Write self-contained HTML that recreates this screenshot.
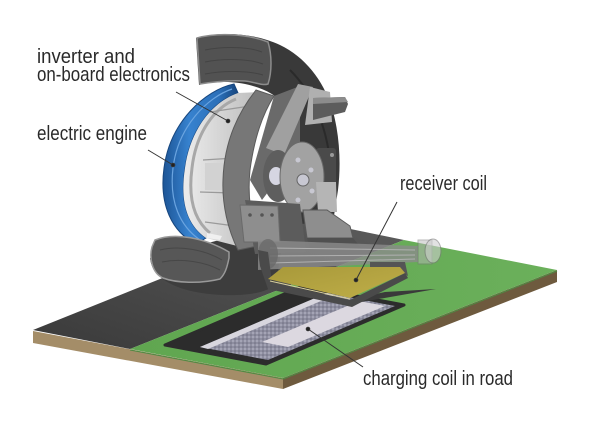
<!DOCTYPE html>
<html><head><meta charset="utf-8">
<style>
html,body{margin:0;padding:0;background:#fff;}
svg{display:block;}
text{font-family:"Liberation Sans",sans-serif;fill:#2a2a2a;font-size:20px;}
</style></head><body>
<svg width="600" height="425" viewBox="0 0 600 425" xmlns="http://www.w3.org/2000/svg">
<defs>
<linearGradient id="asph" x1="0" y1="1" x2="1" y2="0">
<stop offset="0" stop-color="#3a3a3a"/><stop offset="1" stop-color="#5c5c5c"/>
</linearGradient>
<linearGradient id="grn" x1="0" y1="0" x2="1" y2="0">
<stop offset="0" stop-color="#60a650"/><stop offset="1" stop-color="#6bb05b"/>
</linearGradient>
<linearGradient id="blue" x1="0" y1="0" x2="1" y2="0">
<stop offset="0" stop-color="#1d5596"/><stop offset="0.35" stop-color="#3782cf"/><stop offset="0.75" stop-color="#2b6fb8"/><stop offset="1" stop-color="#17467e"/>
</linearGradient>
<linearGradient id="housing" x1="0" y1="0" x2="1" y2="0">
<stop offset="0" stop-color="#ececec"/><stop offset="1" stop-color="#bcbcbc"/>
</linearGradient>
<linearGradient id="yel" x1="0" y1="0" x2="1" y2="1">
<stop offset="0" stop-color="#a8993a"/><stop offset="1" stop-color="#bfae48"/>
</linearGradient>
<pattern id="dots" width="4" height="4" patternUnits="userSpaceOnUse">
<rect width="4" height="4" fill="#8e8ea0"/>
<circle cx="1" cy="1" r="0.9" fill="#b4b4c4"/>
<circle cx="3" cy="3" r="0.8" fill="#6e6e80"/>
</pattern>
</defs>

<!-- slab faces -->
<polygon points="33,331 283,378 283,389 33,343" fill="#a48d68"/>
<polygon points="283,378 557,270 557,282 283,389" fill="#6e5a3e"/>
<!-- slab top -->
<polygon points="33,330 307,220 404,240 130,349" fill="url(#asph)"/>
<polygon points="130,349 404,240 557,270 283,378" fill="url(#grn)"/>
<line x1="130" y1="350" x2="283" y2="379" stroke="#4f8a42" stroke-width="1"/>
<line x1="283" y1="379" x2="557" y2="271" stroke="#4f8a42" stroke-width="1"/>

<!-- slot -->
<polygon points="165,345 266,364 404,305 303,286" fill="#2c2c2c" stroke="#2c2c2c" stroke-width="3" stroke-linejoin="round"/>
<polygon points="200,347 268,360 395,306 327,293" fill="url(#dots)"/>
<polygon points="200,347 208,349 335,295 327,293" fill="#d8d6de"/>
<polygon points="262,342 288,347 385,306 359,301" fill="#dcd8e0"/>

<!-- wedge shadow -->
<polygon points="345,301 385,292 436,289 350,304" fill="#3a3a3a"/>

<!-- lower tire body -->
<path d="M150,258 C152,280 180,293 222,295 C250,296 268,292 276,284 L282,245 L235,236 Z" fill="#3d3d3d"/>

<!-- tire upper/right -->
<path d="M196,38 C220,31 255,33 280,45 C305,57 323,80 332,108 C340,135 341,165 338,190 L333,222 L300,224 L285,105 C272,90 250,83 228,82 C215,82 205,83 199,85 Z" fill="#393939"/>
<path d="M290,70 C310,90 325,120 330,160" stroke="#2a2a2a" stroke-width="2" fill="none"/>
<path d="M197,38 C215,33 245,33 268,42 C272,55 272,72 268,84 C262,86 255,82 245,81 C230,80 212,82 200,84 Z" fill="#525252" stroke="#8c8c8c" stroke-width="1.5"/>
<path d="M205,50 C225,46 250,47 262,52 M205,62 C225,58 250,59 263,64 M205,74 C225,70 250,71 263,75" stroke="#444" stroke-width="1" fill="none"/>

<!-- blue ring -->
<path d="M234,84 C205,90 170,122 164,168 C159,205 172,232 196,244 L206,238 C186,224 180,200 185,168 C190,130 212,102 238,93 Z" fill="url(#blue)" stroke="#17467e" stroke-width="1"/>
<path d="M232,89 C208,97 178,126 173,168 C169,202 180,226 200,240" stroke="#6aa4e0" stroke-width="1.2" fill="none"/>

<!-- motor housing -->
<path d="M238,93 C212,102 190,130 185,168 C180,200 186,224 206,238 L245,248 L240,150 L260,92 Z" fill="url(#housing)"/>
<path d="M236,99 C214,108 196,133 192,168 C188,198 194,220 210,233" stroke="#a8a8a8" stroke-width="3" fill="none"/>
<path d="M210,112 L250,106 M203,160 L235,158 M200,192 L232,193 M205,222 L235,226" stroke="#9a9a9a" stroke-width="1.2" fill="none"/>
<rect x="205" y="163" width="25" height="27" fill="#d2d2d2"/>

<!-- dark arm plate -->
<path d="M256,90 L274,96 C262,115 254,140 250,170 C247,200 252,225 262,245 L238,250 C228,230 222,205 223,180 C224,145 236,115 256,90 Z" fill="#777" stroke="#5a5a5a" stroke-width="1"/>

<!-- knuckle / hub area -->
<polygon points="274,96 300,86 300,150 262,200 250,180" fill="#6a6a6a"/>
<polygon points="298,84 313,87 284,155 266,148" fill="#a0a0a0"/>
<polygon points="310,87 330,92 332,122 305,125" fill="#b0b0b0"/>
<polygon points="313,98 345,97 348,104 345,112 313,120" fill="#5c5c5c"/>
<polygon points="313,98 345,97 348,102 313,104" fill="#8c8c8c"/>
<ellipse cx="278" cy="176" rx="15" ry="26" fill="#5e5e5e"/>
<ellipse cx="276" cy="176" rx="7" ry="9" fill="#d6d6e2"/>
<rect x="316" y="148" width="20" height="52" rx="3" fill="#4a4a4a"/>
<circle cx="332" cy="155" r="2" fill="#999"/><circle cx="334" cy="190" r="2" fill="#999"/>
<ellipse cx="302" cy="177" rx="22" ry="35" fill="#a2a2a2" stroke="#6a6a6a" stroke-width="1"/>
<circle cx="303" cy="180" r="6" fill="#c8c8d2" stroke="#666"/>
<circle cx="298" cy="160" r="2.5" fill="#c8c8d2"/><circle cx="311" cy="170" r="2.5" fill="#c8c8d2"/>
<circle cx="312" cy="191" r="2.5" fill="#c8c8d2"/><circle cx="298" cy="200" r="2.5" fill="#c8c8d2"/>
<polygon points="316,182 336,182 337,212 318,212" fill="#b5b5b5"/>

<!-- lower mid structure -->
<polygon points="245,200 300,204 306,252 255,254" fill="#5c5c5c"/>
<polygon points="240,205 278,206 280,242 244,242" fill="#8e8e8e" stroke="#6a6a6a"/>
<circle cx="250" cy="215" r="1.8" fill="#555"/><circle cx="262" cy="215" r="1.8" fill="#555"/><circle cx="272" cy="215" r="1.8" fill="#555"/>
<polygon points="303,210 327,210 350,226 353,238 307,238" fill="#8e8e8e" stroke="#5a5a5a"/>
<polygon points="307,238 353,238 363,250 310,250" fill="#505050"/>

<!-- tube -->
<path d="M258,240 L418,246 L418,262 L258,270 Z" fill="#8b8b8b" opacity="0.8"/>
<path d="M270,248 L415,250 M270,256 L415,255 M270,263 L415,259" stroke="#b0b0b0" stroke-width="1" fill="none"/>
<rect x="418" y="240" width="14" height="24" fill="#b8b8b8" opacity="0.5" stroke="#777"/>
<ellipse cx="433" cy="251" rx="8" ry="12" fill="#cfcfcf" opacity="0.6" stroke="#777"/>
<ellipse cx="268" cy="254" rx="10" ry="15" fill="#6a6a6a" opacity="0.8"/>

<!-- plate frame + plate -->
<polygon points="370,262 405,262 408,276 400,272 370,268" fill="#555"/>
<polygon points="258,250 268,252 272,282 350,300 405,273 408,278 352,307 268,289 260,266" fill="#4a4a4a"/>
<polygon points="268,279 283,267 400,267 405,273 350,298" fill="url(#yel)"/>
<line x1="270" y1="281" x2="350" y2="299" stroke="#d8d0a0" stroke-width="1"/>

<!-- lower tire cross-section -->
<path d="M155,240 C175,232 205,238 229,252 L229,258 C227,268 225,274 220,279 C200,284 176,283 163,278 C152,273 149,258 152,247 Z" fill="#575757" stroke="#999" stroke-width="1.5"/>
<path d="M160,250 C180,245 205,250 222,260 M162,262 C182,258 205,262 220,270" stroke="#474747" stroke-width="1" fill="none"/>
<path d="M207,233 L222,236 L220,240 L207,238 Z" fill="#f0f0f0"/>

<!-- leader lines -->
<g stroke="#333" stroke-width="1" fill="#222">
<line x1="176" y1="92" x2="228" y2="121"/><circle cx="228" cy="121" r="1.8"/>
<line x1="148" y1="150" x2="173" y2="165"/><circle cx="173" cy="165" r="1.8"/>
<line x1="397" y1="202" x2="356" y2="280"/><circle cx="356" cy="280" r="1.8"/>
<line x1="363" y1="367" x2="308" y2="329"/><circle cx="308" cy="329" r="1.8"/>
</g>

<!-- labels -->
<text x="37" y="63" textLength="98" lengthAdjust="spacingAndGlyphs">inverter and</text>
<text x="37" y="81" textLength="153" lengthAdjust="spacingAndGlyphs">on-board electronics</text>
<text x="37" y="140" textLength="110" lengthAdjust="spacingAndGlyphs">electric engine</text>
<text x="400" y="190" textLength="87" lengthAdjust="spacingAndGlyphs">receiver coil</text>
<text x="363" y="385" textLength="150" lengthAdjust="spacingAndGlyphs">charging coil in road</text>
</svg>
</body></html>
